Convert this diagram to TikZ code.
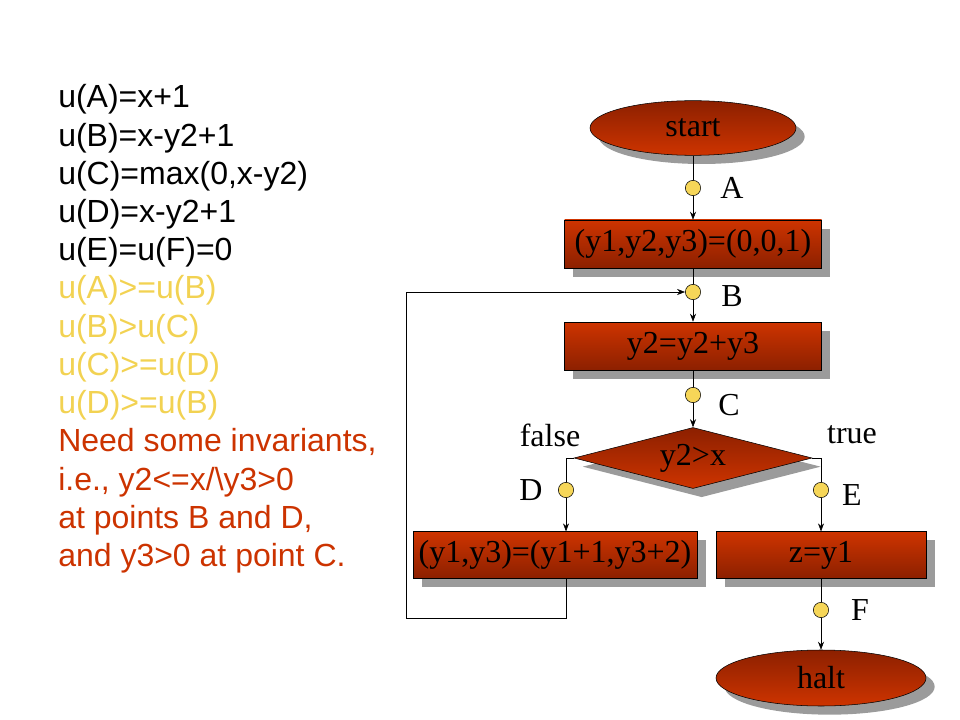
\documentclass[tikz,border=0pt]{standalone}
\usepackage{fontspec}
\setmainfont{Liberation Serif}
\newfontfamily\notefont{Liberation Sans}
\usetikzlibrary{shapes.geometric,shadows,arrows.meta}
\definecolor{flowred}{RGB}{206,52,0}
\definecolor{flowdark}{RGB}{140,32,0}
\definecolor{dotyellow}{RGB}{246,214,88}
\definecolor{shadowgray}{RGB}{155,155,155}
\definecolor{hintyellow}{RGB}{242,210,82}
\definecolor{notered}{RGB}{204,51,0}
\begin{document}
\begin{tikzpicture}[x=0.75pt,y=-0.75pt,
    font=\fontsize{24}{28}\selectfont,
    shadowed/.style={drop shadow={shadow xshift=6.5pt,shadow yshift=-6.5pt,fill=shadowgray,opacity=1}},
    stmt/.style={draw=black,thin,rectangle,inner sep=0pt,minimum height=35pt,
      top color=flowred,bottom color=flowdark,shadowed},
    term/.style={draw=black,thin,ellipse,inner sep=0pt,
      top color=flowdark,bottom color=flowred,shadowed},
    cond/.style={draw=black,thin,diamond,aspect=3.6,inner sep=0pt,
      top color=flowdark,bottom color=flowred,shadowed},
    point/.style={draw=black,thin,circle,fill=dotyellow,inner sep=0pt,minimum size=11.5pt},
    arr/.style={-{Stealth[length=6pt,width=4.5pt]}},
    note/.style={anchor=base west,inner sep=0pt,font=\notefont\fontsize{24}{28.7}\selectfont}]
  \useasboundingbox (0,0) rectangle (960,720);
  % measures attached to the program points
  \node[note] (n1) at (58,108) {u(A)=x+1};
  \node[note] (n2) at (58,146.2) {u(B)=x-y2+1};
  \node[note] (n3) at (58,184.4) {u(C)=max(0,x-y2)};
  \node[note] (n4) at (58,222.6) {u(D)=x-y2+1};
  \node[note] (n5) at (58,260.8) {u(E)=u(F)=0};
  \begin{scope}[hintyellow]
    \node[note] (h1) at (58,299) {u(A)>=u(B)};
    \node[note] (h2) at (58,337.2) {u(B)>u(C)};
    \node[note] (h3) at (58,375.4) {u(C)>=u(D)};
    \node[note] (h4) at (58,413.6) {u(D)>=u(B)};
  \end{scope}
  \begin{scope}[notered]
    \node[note] (r1) at (58,451.8) {Need some invariants,};
    \node[note] (r2) at (58,490) {i.e., y2<=x/\textbackslash y3>0};
    \node[note] (r3) at (58,528.2) {at points B and D,};
    \node[note] (r4) at (58,566.4) {and y3>0 at point C.};
  \end{scope}
  % flowchart
  \node[term,minimum width=154.5pt,minimum height=41pt] (start) at (693,128) {\raisebox{-3pt}{start}};
  \node[point] (A) at (693,188) {};
  \node[stmt,minimum width=192.75pt,minimum height=36pt] (init) at (693,244) {(y1,y2,y3)=(0,0,1)};
  \node[point] (B) at (693,292) {};
  \node[stmt,minimum width=192.75pt,minimum height=36pt] (incr) at (693,346) {y2=y2+y3};
  \node[point] (C) at (693,395) {};
  \node[cond,minimum width=178.5pt,minimum height=45.75pt] (test) at (693,458) {y2>x};
  \node[point] (D) at (566,490) {};
  \node[point] (E) at (821,490) {};
  \node[stmt,minimum width=213pt] (body) at (555,555) {(y1,y3)=(y1+1,y3+2)};
  \node[stmt,minimum width=157.5pt] (assign) at (821,555) {z=y1};
  \node[point] (F) at (821,610) {};
  \node[term,minimum width=157.5pt,minimum height=42pt] (halt) at (821,678) {halt};
  \coordinate (loopbot) at (406,618);
  \coordinate (looptop) at (406,292);
  % point names and branch labels
  \node (lA) at (732,188) {A};
  \node (lB) at (732,296) {B};
  \node (lC) at (729,405) {C};
  \node (lD) at (531,490) {D};
  \node (lE) at (852,495) {E};
  \node (lF) at (860,610) {F};
  \node (lfalse) at (550,435) {false};
  \node (ltrue) at (852,435) {true};
  \begin{scope}[thin]
    \draw (start) -- (A);
    \draw[arr] (A) -- (init);
    \draw (init) -- (B);
    \draw[arr] (B) -- (incr);
    \draw (incr) -- (C);
    \draw[arr] (C) -- (test);
    \draw (test.west) -| (D);
    \draw[arr] (D) -- (D |- body.north);
    \draw (test.east) -| (E);
    \draw[arr] (E) -- (assign);
    \draw (assign) -- (F);
    \draw[arr] (F) -- (halt);
    \draw[arr] (body.south -| D) |- (loopbot) -- (looptop) -- (B);
  \end{scope}
\end{tikzpicture}
\end{document}
